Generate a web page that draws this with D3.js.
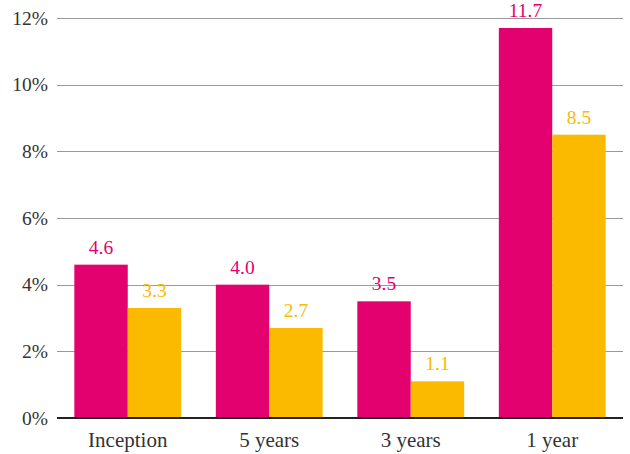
<!DOCTYPE html>
<html><head><meta charset="utf-8">
<script src="https://cdn.jsdelivr.net/npm/d3@7"></script>
<style>body{margin:0;background:#fff}svg{display:block}</style>
</head><body><svg id="c" width="630" height="454"></svg>
<script>
const categories = ["Inception", "5 years", "3 years", "1 year"];
const seriesNames = ["Fund", "Benchmark"];
const fundValues = [4.6, 4.0, 3.5, 11.7];
const benchValues = [3.3, 2.7, 1.1, 8.5];
const yTicks = [0, 2, 4, 6, 8, 10, 12];
const colors = ["#e3006f", "#fbb900"];
const FONT = "Liberation Serif";

const svg = d3.select("#c");
const m = {l: 57, r: 7, t: 18, b: 36};
const W = 630, H = 454;
const x = d3.scaleBand().domain(categories).range([m.l, W - m.r]).paddingInner(0.245).paddingOuter(0.1225);
const x1 = d3.scaleBand().domain(seriesNames).range([0, x.bandwidth()]);
const y = d3.scaleLinear().domain([0, 12]).range([H - m.b, m.t]);

const g = svg.append("g");
g.selectAll("line").data(yTicks.filter(d => d > 0)).join("line")
  .attr("x1", m.l).attr("x2", W - m.r)
  .attr("y1", d => Math.round(y(d)) + 0.5).attr("y2", d => Math.round(y(d)) + 0.5)
  .attr("stroke", "#9a9a9a").attr("stroke-width", 1);

svg.append("g").selectAll("text").data(yTicks).join("text")
  .attr("font-family", FONT)
  .attr("x", 48).attr("y", d => y(d)).attr("dy", "0.35em")
  .attr("text-anchor", "end").attr("font-size", 19.5).attr("fill", "#333")
  .text(d => d + "%");

const data = categories.map((c, i) => ({c, vals: [fundValues[i], benchValues[i]]}));
const grp = svg.append("g").selectAll("g").data(data).join("g")
  .attr("transform", d => `translate(${x(d.c)},0)`);
grp.selectAll("rect").data(d => d.vals.map((v, k) => ({v, k}))).join("rect")
  .attr("x", d => x1(seriesNames[d.k])).attr("width", x1.bandwidth())
  .attr("y", d => y(d.v)).attr("height", d => y(0) - y(d.v))
  .attr("fill", d => colors[d.k]);
grp.selectAll("text.v").data(d => d.vals.map((v, k) => ({v, k}))).join("text")
  .attr("class", "v").attr("font-family", FONT)
  .attr("x", d => x1(seriesNames[d.k]) + x1.bandwidth() / 2)
  .attr("y", d => y(d.v) - 11)
  .attr("text-anchor", "middle").attr("font-size", 19.5)
  .attr("fill", d => colors[d.k])
  .text(d => d.v.toFixed(1));

svg.append("line").attr("x1", m.l).attr("x2", W - m.r)
  .attr("y1", y(0)).attr("y2", y(0)).attr("stroke", "#222").attr("stroke-width", 2);

svg.append("g").selectAll("text").data(categories).join("text")
  .attr("font-family", FONT)
  .attr("x", d => x(d) + x.bandwidth() / 2).attr("y", 447)
  .attr("text-anchor", "middle").attr("font-size", 21).attr("fill", "#333")
  .text(d => d);
</script></body></html>
